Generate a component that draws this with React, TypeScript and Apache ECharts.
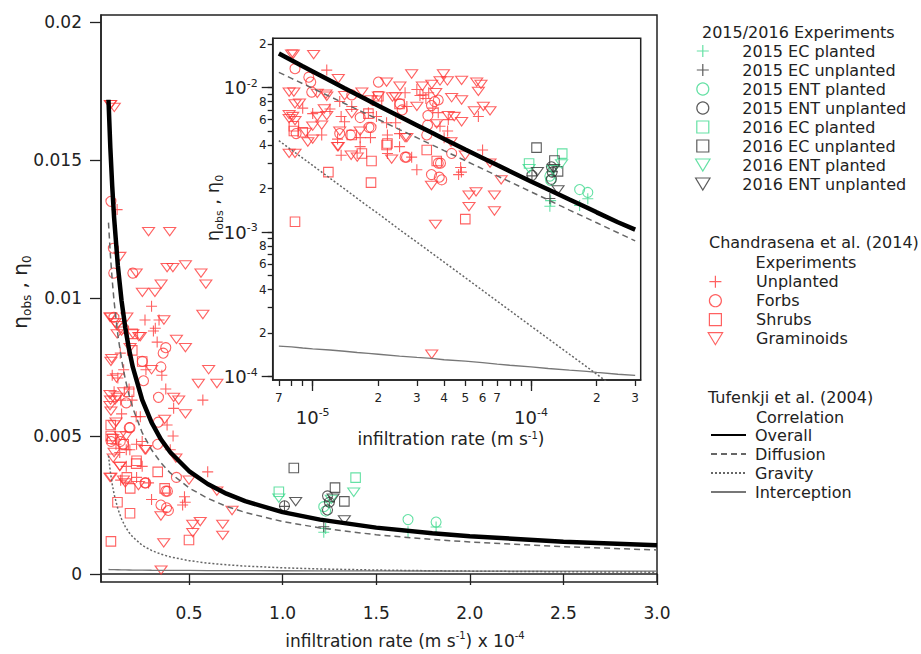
import React, { useEffect, useRef } from 'react';
import * as echarts from 'echarts';

const FONT = 'DejaVu Sans';
const RED = '#ff3a3a';
const GREEN = '#3fd98f';
const DARK = '#333333';

// x in units of 1e-4 m/s, y = eta
const curveX = [0.07, 0.08, 0.09, 0.10, 0.12, 0.14, 0.16, 0.18, 0.20, 0.25, 0.30, 0.35, 0.40, 0.50, 0.60, 0.70, 0.80, 1.0, 1.2, 1.5, 1.8, 2.0, 2.5, 3.0];
const overallY = [0.01718, 0.01543, 0.01404, 0.01291, 0.01117, 0.00989, 0.00891, 0.00813, 0.00749, 0.00631, 0.00549, 0.00488, 0.00441, 0.00373, 0.00326, 0.00291, 0.00264, 0.00224, 0.00197, 0.00168, 0.00148, 0.00137, 0.00117, 0.00104];
const diffusionY = [0.01273, 0.01157, 0.01064, 0.00987, 0.00866, 0.00776, 0.00705, 0.00648, 0.00601, 0.00512, 0.00450, 0.00403, 0.00366, 0.00312, 0.00274, 0.00245, 0.00223, 0.00190, 0.00167, 0.00142, 0.00125, 0.00116, 0.00099, 0.00087];
const gravityY = [0.00429, 0.00370, 0.00325, 0.00289, 0.00236, 0.00199, 0.00171, 0.00150, 0.00134, 0.00104, 0.000853, 0.000719, 0.000620, 0.000484, 0.000395, 0.000333, 0.000287, 0.000224, 0.000183, 0.000143, 0.000117, 0.000104, 0.0000811, 0.0000662];
const interceptionY = [0.000163, 0.000161, 0.000158, 0.000156, 0.000153, 0.000150, 0.000147, 0.000145, 0.000143, 0.000139, 0.000136, 0.000134, 0.000131, 0.000128, 0.000125, 0.000122, 0.000120, 0.000117, 0.000114, 0.000111, 0.000109, 0.000107, 0.000104, 0.000102];

const ec15Planted = [[1.22, 0.00151], [1.23, 0.00165], [1.67, 0.00153], [1.82, 0.00170]];
const ec15Unplanted = [[1.01, 0.00245], [1.22, 0.00171], [1.25, 0.00262]];
const ent15Planted = [[1.22, 0.00244], [1.23, 0.00228], [1.67, 0.00197], [1.82, 0.00188]];
const ent15Unplanted = [[1.01, 0.00247], [1.24, 0.00283], [1.25, 0.00260], [1.24, 0.00232]];
const ec16Planted = [[0.98, 0.00298], [1.39, 0.00349]];
const ec16Unplanted = [[1.06, 0.00384], [1.28, 0.00313], [1.33, 0.00263]];
const ent16Planted = [[0.98, 0.00275], [1.38, 0.00296], [1.26, 0.00270]];
const ent16Unplanted = [[1.07, 0.00262], [1.33, 0.00196], [1.27, 0.00275]];

const chUnplanted = [[0.116, 0.0132], [0.133, 0.0080], [0.135, 0.0063], [0.151, 0.0074], [0.165, 0.0045], [0.184, 0.0045], [0.135, 0.0034], [0.165, 0.0039], [0.220, 0.0047], [0.220, 0.0035], [0.180, 0.0067], [0.300, 0.0097], [0.265, 0.0092], [0.340, 0.0092], [0.376, 0.0067], [0.418, 0.0060], [0.383, 0.0054], [0.250, 0.0039], [0.284, 0.0033], [0.300, 0.0027], [0.400, 0.0045], [0.600, 0.0037], [0.476, 0.0028], [0.466, 0.0025], [0.480, 0.0026], [0.240, 0.0057], [0.218, 0.0057], [0.196, 0.0063], [0.574, 0.0063], [0.270, 0.0074], [0.320, 0.0089], [0.330, 0.0084], [0.310, 0.0088], [0.355, 0.0072], [0.415, 0.0050], [0.250, 0.0048], [0.120, 0.0071], [0.100, 0.0066], [0.090, 0.0072], [0.140, 0.0058], [0.110, 0.0047], [0.130, 0.0044]];
const chForbs = [[0.083, 0.0135], [0.098, 0.0109], [0.096, 0.0118], [0.099, 0.0093], [0.200, 0.0109], [0.151, 0.0089], [0.165, 0.0062], [0.181, 0.0053], [0.133, 0.0048], [0.084, 0.0048], [0.149, 0.0047], [0.376, 0.0082], [0.337, 0.0064], [0.333, 0.0047], [0.269, 0.0033], [0.376, 0.0030], [0.350, 0.0025], [0.380, 0.0024], [0.433, 0.0035], [0.251, 0.0077], [0.350, 0.0075], [0.385, 0.0030], [0.362, 0.0080], [0.257, 0.0070], [0.185, 0.0053], [0.336, 0.0055], [0.265, 0.0033], [0.390, 0.0023]];
const chShrubs = [[0.082, 0.0054], [0.082, 0.0050], [0.151, 0.0047], [0.168, 0.0035], [0.186, 0.0031], [0.118, 0.0026], [0.185, 0.0022], [0.083, 0.00118], [0.500, 0.00123], [0.200, 0.0087], [0.218, 0.0040], [0.333, 0.0037], [0.370, 0.0031], [0.250, 0.0077], [0.197, 0.0081], [0.180, 0.0066], [0.220, 0.0041], [0.090, 0.0049]];
const chGraminoids = [[0.080, 0.0170], [0.0815, 0.0170], [0.101, 0.0169], [0.131, 0.0115], [0.218, 0.0109], [0.251, 0.0102], [0.082, 0.0093], [0.083, 0.0077], [0.115, 0.0090], [0.116, 0.0087], [0.113, 0.0071], [0.116, 0.0064], [0.151, 0.0066], [0.168, 0.0093], [0.081, 0.0063], [0.083, 0.0059], [0.093, 0.0049], [0.100, 0.0054], [0.100, 0.0044], [0.083, 0.0035], [0.133, 0.0050], [0.131, 0.0039], [0.150, 0.0034], [0.165, 0.0050], [0.185, 0.0082], [0.232, 0.0086], [0.284, 0.0124], [0.397, 0.0124], [0.383, 0.0111], [0.414, 0.0111], [0.481, 0.0112], [0.564, 0.0109], [0.590, 0.0105], [0.574, 0.0094], [0.318, 0.0102], [0.351, 0.0105], [0.366, 0.0092], [0.433, 0.0085], [0.481, 0.0082], [0.550, 0.0069], [0.605, 0.0074], [0.649, 0.0069], [0.300, 0.0074], [0.418, 0.0064], [0.445, 0.0063], [0.481, 0.0058], [0.370, 0.0056], [0.265, 0.0045], [0.500, 0.0034], [0.649, 0.0030], [0.430, 0.0042], [0.350, 0.0021], [0.520, 0.0018], [0.560, 0.0019], [0.680, 0.0018], [0.520, 0.0015], [0.680, 0.0014], [0.365, 0.00113], [0.730, 0.0023], [0.351, 0.000143], [0.078, 0.0093], [0.105, 0.0091], [0.140, 0.0088], [0.200, 0.0087], [0.240, 0.0086], [0.087, 0.0078], [0.078, 0.0065], [0.105, 0.0063], [0.078, 0.0061], [0.110, 0.0055], [0.095, 0.0042], [0.130, 0.0039], [0.078, 0.0035], [0.160, 0.0033], [0.230, 0.0032], [0.270, 0.0045]];

const mainXTicks = [0.5, 1.0, 1.5, 2.0, 2.5, 3.0];
const mainYTicks = [0, 0.005, 0.01, 0.015, 0.02];
const insetXTicks = [0.07, 0.08, 0.09, 0.1, 0.2, 0.3, 0.4, 0.5, 0.6, 0.7, 0.8, 0.9, 1, 2, 3];
const insetXMinorLabels = [0.07, 0.2, 0.3, 0.4, 0.5, 0.6, 0.7, 2, 3];
const insetXMajor = [0.1, 1];
const insetYTicks = [1e-4, 2e-4, 3e-4, 4e-4, 5e-4, 6e-4, 7e-4, 8e-4, 9e-4, 1e-3, 2e-3, 3e-3, 4e-3, 5e-3, 6e-3, 7e-3, 8e-3, 9e-3, 1e-2, 2e-2];
const insetYMinorLabels = [2e-4, 4e-4, 6e-4, 8e-4, 2e-3, 4e-3, 6e-3, 8e-3, 2e-2];
const insetYMajor = [1e-4, 1e-3, 1e-2];

const PLUS = 'path://M6,0L6,12M0,6L12,6';
const TRI = 'path://M0,0L12,0L6,10Z';
const SQUARE = 'path://M0,0L10,0L10,10L0,10Z';

const digit = (v: number) => String(Math.round(v / Math.pow(10, Math.floor(Math.log10(v) + 1e-9))));

const supRich = {
  b: { fontSize: 18, lineHeight: 20, fontFamily: FONT, color: '#222' },
  sp: { fontSize: 11, lineHeight: 11, verticalAlign: 'top', fontFamily: FONT, color: '#222' },
};

export default function App() {
  const ref = useRef<HTMLDivElement>(null);
  useEffect(() => {
    if (!ref.current) return;
    const chart = echarts.init(ref.current, undefined, { renderer: 'svg' });

    const scat = (name: string, data: number[][], symbol: string, size: any, color: string, g: number) => ({
      type: 'scatter', name, data, symbol, symbolSize: size, symbolKeepAspect: true,
      xAxisIndex: g === 0 ? 0 : 1, yAxisIndex: g === 0 ? 0 : 1,
      itemStyle: { color: 'rgba(0,0,0,0)', borderColor: color, borderWidth: 1.1 },
      z: 2, silent: true, emphasis: { disabled: true },
    });
    const ln = (name: string, ys: number[], lineStyle: any, g: number) => ({
      type: 'line', name, data: curveX.map((x, i) => [x, ys[i]]), symbol: 'none', showSymbol: false,
      xAxisIndex: g === 0 ? 0 : 1, yAxisIndex: g === 0 ? 0 : 1,
      itemStyle: { color: lineStyle.color },
      lineStyle, z: 3, silent: true, emphasis: { disabled: true }, clip: true,
    });

    const series: any[] = [];
    for (const g of [0, 1]) {
      series.push(
        scat('Unplanted', chUnplanted, PLUS, 11, RED, g),
        scat('Forbs', chForbs, 'circle', 10, RED, g),
        scat('Shrubs', chShrubs, SQUARE, 9.5, RED, g),
        scat('Graminoids', chGraminoids, TRI, [12, 10], RED, g),
        scat('2015 EC planted', ec15Planted, PLUS, 11, GREEN, g),
        scat('2015 EC unplanted', ec15Unplanted, PLUS, 11, DARK, g),
        scat('2015 ENT planted', ent15Planted, 'circle', 10, GREEN, g),
        scat('2015 ENT unplanted', ent15Unplanted, 'circle', 10, DARK, g),
        scat('2016 EC planted', ec16Planted, SQUARE, 9.5, GREEN, g),
        scat('2016 EC unplanted', ec16Unplanted, SQUARE, 9.5, DARK, g),
        scat('2016 ENT planted', ent16Planted, TRI, [12, 10], GREEN, g),
        scat('2016 ENT unplanted', ent16Unplanted, TRI, [12, 10], DARK, g),
        ln('Interception', interceptionY, { color: '#777', width: 1.3 }, g),
        ln('Gravity', gravityY, { color: '#666', width: 1.5, type: [2, 2] }, g),
        ln('Diffusion', diffusionY, { color: '#666', width: 1.5, type: [6, 4] }, g),
        ln('Overall', overallY, { color: '#000', width: 4.5 }, g),
      );
    }

    const axisLine = { show: true, lineStyle: { color: '#222', width: 1.5 } };
    const tickStyle = { color: '#222', width: 1.3 };
    const legendText = { fontSize: 16, lineHeight: 16, fontFamily: FONT, color: '#222' };

    const option: any = {
      animation: false,
      textStyle: { fontFamily: FONT },
      grid: [
        { left: 101, top: 15, width: 556, height: 567, show: true, borderColor: '#222', borderWidth: 1.5, backgroundColor: 'rgba(0,0,0,0)', containLabel: false, outerBoundsMode: 'none' },
        { left: 272.7, top: 38.3, width: 368, height: 341.7, show: true, borderColor: '#222', borderWidth: 1.5, backgroundColor: '#fff', containLabel: false, outerBoundsMode: 'none' },
      ],
      xAxis: [
        {
          type: 'value', gridIndex: 0, min: 0.03, max: 3.0, axisLine,
          axisTick: { show: true, customValues: mainXTicks, length: 11, lineStyle: tickStyle },
          axisLabel: { customValues: mainXTicks, formatter: (v: number) => v.toFixed(1), fontSize: 17, margin: 22, color: '#222', fontFamily: FONT },
          splitLine: { show: false },
        },
        {
          type: 'log', gridIndex: 1, min: 0.0656, max: 3.18, position: 'bottom', axisLine,
          axisTick: { show: true, customValues: insetXTicks, length: 6, lineStyle: tickStyle },
          axisLabel: { customValues: insetXMinorLabels, formatter: (v: number) => digit(v), fontSize: 12, margin: 12, color: '#222', fontFamily: FONT },
          splitLine: { show: false }, minorTick: { show: false },
        },
        {
          type: 'log', gridIndex: 1, min: 0.0656, max: 3.18, position: 'bottom', offset: 0, axisLine: { show: false },
          axisTick: { show: true, customValues: insetXMajor, length: 11, lineStyle: tickStyle },
          axisLabel: { customValues: insetXMajor, formatter: (v: number) => '{b|10}{sp|' + (Math.round(Math.log10(v)) - 4) + '}', rich: supRich, margin: 27, color: '#222' },
          splitLine: { show: false },
        },
      ],
      yAxis: [
        {
          type: 'value', gridIndex: 0, min: -0.00029, max: 0.02025, axisLine,
          axisTick: { show: true, customValues: mainYTicks, length: 11, lineStyle: tickStyle },
          axisLabel: { customValues: mainYTicks, formatter: (v: number) => String(v), fontSize: 17, margin: 19, color: '#222', fontFamily: FONT },
          splitLine: { show: false },
        },
        {
          type: 'log', gridIndex: 1, min: 9.49e-5, max: 0.0219, position: 'left', axisLine,
          axisTick: { show: true, customValues: insetYTicks, length: 5, lineStyle: tickStyle },
          axisLabel: { customValues: insetYMinorLabels, formatter: (v: number) => digit(v), fontSize: 12, margin: 6, color: '#222', fontFamily: FONT },
          splitLine: { show: false },
        },
        {
          type: 'log', gridIndex: 1, min: 9.49e-5, max: 0.0219, position: 'left', offset: 0, axisLine: { show: false },
          axisTick: { show: true, customValues: insetYMajor, length: 11, lineStyle: tickStyle },
          axisLabel: { customValues: insetYMajor, formatter: (v: number) => '{b|10}{sp|' + Math.round(Math.log10(v)) + '}', rich: supRich, margin: 15, color: '#222' },
          splitLine: { show: false },
        },
      ],
      legend: [
        {
          data: ['2015 EC planted', '2015 EC unplanted', '2015 ENT planted', '2015 ENT unplanted', '2016 EC planted', '2016 EC unplanted', '2016 ENT planted', '2016 ENT unplanted'],
          orient: 'vertical', left: 695, top: 43, itemWidth: 43, itemHeight: 12, itemGap: 3, padding: 0,
          textStyle: { ...legendText, padding: [0, 0, 0, 13] }, selectedMode: false, itemStyle: { borderWidth: 1.2 },
        },
        {
          data: ['Unplanted', 'Forbs', 'Shrubs', 'Graminoids'],
          orient: 'vertical', left: 707.6, top: 273.7, itemWidth: 43.4, itemHeight: 12, itemGap: 3, padding: 0,
          textStyle: { ...legendText, padding: [0, 0, 0, 14] }, selectedMode: false, itemStyle: { borderWidth: 1.2 },
        },
        {
          data: ['Overall', 'Diffusion', 'Gravity', 'Interception'],
          orient: 'vertical', left: 710, top: 427, itemWidth: 35, itemHeight: 12, itemGap: 3, padding: 0,
          textStyle: { ...legendText, padding: [0, 0, 0, 4] }, selectedMode: false,
          itemStyle: { color: 'rgba(0,0,0,0)', borderWidth: 0, opacity: 0 },
        },
      ],
      graphic: [
        { type: 'text', left: 702, top: 24, style: { text: '2015/2016 Experiments', fontSize: 16, fontFamily: FONT, fill: '#222' } },
        { type: 'text', left: 709, top: 234, style: { text: 'Chandrasena et al. (2014)', fontSize: 16, fontFamily: FONT, fill: '#222' } },
        { type: 'text', x: 806, y: 262, style: { text: 'Experiments', fontSize: 16, fontFamily: FONT, fill: '#222', align: 'center', verticalAlign: 'middle' } },
        { type: 'text', left: 708, top: 389, style: { text: 'Tufenkji et al. (2004)', fontSize: 16, fontFamily: FONT, fill: '#222' } },
        { type: 'text', x: 800, y: 417, style: { text: 'Correlation', fontSize: 16, fontFamily: FONT, fill: '#222', align: 'center', verticalAlign: 'middle' } },
        {
          type: 'text', x: 20, y: 292, rotation: Math.PI / 2,
          style: {
            text: '{t|η}{s|obs}{t| , η}{s|0}', align: 'center', verticalAlign: 'middle',
            rich: {
              t: { fontSize: 20, lineHeight: 26, fontFamily: FONT, fill: '#222' },
              s: { fontSize: 12, lineHeight: 12, verticalAlign: 'bottom', fontFamily: FONT, fill: '#222' },
            },
          },
        },
        {
          type: 'text', x: 212.5, y: 208, rotation: Math.PI / 2,
          style: {
            text: '{t|η}{s|obs}{t| , η}{s|0}', align: 'center', verticalAlign: 'middle',
            rich: {
              t: { fontSize: 18, lineHeight: 24, fontFamily: FONT, fill: '#222' },
              s: { fontSize: 11, lineHeight: 11, verticalAlign: 'bottom', fontFamily: FONT, fill: '#222' },
            },
          },
        },
        {
          type: 'text', x: 405, y: 641,
          style: {
            text: '{t|infiltration rate (m s}{sp|-1}{t|) x 10}{sp|-4}', align: 'center', verticalAlign: 'middle',
            rich: {
              t: { fontSize: 17, lineHeight: 22, fontFamily: FONT, fill: '#222' },
              sp: { fontSize: 10, lineHeight: 10, verticalAlign: 'top', fontFamily: FONT, fill: '#222' },
            },
          },
        },
        {
          type: 'text', x: 451, y: 439,
          style: {
            text: '{t|infiltration rate (m s}{sp|-1}{t|)}', align: 'center', verticalAlign: 'middle',
            rich: {
              t: { fontSize: 17, lineHeight: 18, fontFamily: FONT, fill: '#222' },
              sp: { fontSize: 10, lineHeight: 10, verticalAlign: 'top', fontFamily: FONT, fill: '#222' },
            },
          },
        },
      ],
      series,
    };
    chart.setOption(option);
    return () => chart.dispose();
  }, []);
  return <div ref={ref} style={{ position: 'fixed', left: 0, top: 0, width: 921, height: 654, background: '#fff' }} />;
}
